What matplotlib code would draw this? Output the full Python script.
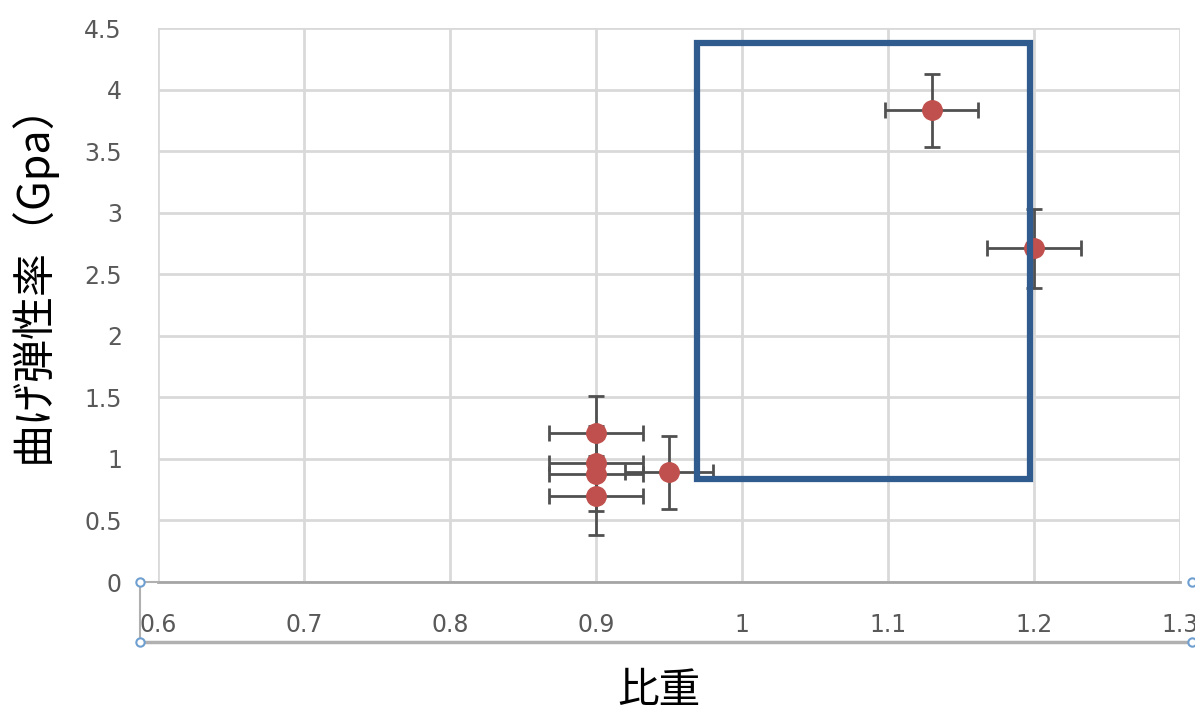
import matplotlib.pyplot as plt
from matplotlib.patches import Rectangle
from matplotlib.lines import Line2D

# data
x_vals = [1.13, 1.20, 0.90, 0.90, 0.90, 0.90, 0.95]
y_vals = [3.83, 2.71, 1.21, 0.97, 0.88, 0.70, 0.89]
x_err = [0.032, 0.032, 0.032, 0.032, 0.032, 0.032, 0.03]
y_err = [0.30, 0.32, 0.30, 0.30, 0.30, 0.32, 0.30]
x_ticks = [0.6, 0.7, 0.8, 0.9, 1.0, 1.1, 1.2, 1.3]
x_tick_labels = ['0.6', '0.7', '0.8', '0.9', '1', '1.1', '1.2', '1.3']
y_ticks = [0, 0.5, 1, 1.5, 2, 2.5, 3, 3.5, 4, 4.5]
y_tick_labels = ['0', '0.5', '1', '1.5', '2', '2.5', '3', '3.5', '4', '4.5']
# highlighted region (x0, y0, x1, y1)
box = [0.969, 0.84, 1.197, 4.38]

plt.rcParams['font.family'] = ['Noto Sans CJK JP', 'DejaVu Sans']

fig = plt.figure(figsize=(11.95, 7.22), dpi=100)
ax = fig.add_axes([0.1322, 0.1939, 0.8552, 0.7673])
ax.set_xlim(0.6, 1.3)
ax.set_ylim(0, 4.5)

ax.grid(True, color='#d9d9d9', linewidth=2)
ax.set_axisbelow(True)
for s in ['top', 'right', 'left']:
    ax.spines[s].set_visible(False)
ax.spines['bottom'].set_color('#a6a6a6')
ax.spines['bottom'].set_linewidth(2)

ax.errorbar(x_vals, y_vals, xerr=x_err, yerr=y_err, fmt='o',
            color='#c0504d', markersize=14, ecolor='#505050',
            elinewidth=2, capsize=6, capthick=2, zorder=3)

ax.add_patch(Rectangle((box[0], box[1]), box[2] - box[0], box[3] - box[1],
                       fill=False, edgecolor='#2f5b8f', linewidth=4.5, zorder=4))

ax.set_xticks(x_ticks)
ax.set_xticklabels(x_tick_labels, family=['DejaVu Sans'])
ax.set_yticks(y_ticks)
ax.set_yticklabels(y_tick_labels, family=['DejaVu Sans'])
ax.tick_params(axis='x', length=0, pad=22, labelsize=17, labelcolor='#595959')
ax.tick_params(axis='y', length=0, pad=26, labelsize=17, labelcolor='#595959')

ax.set_ylabel('曲げ弾性率（Gpa）', fontsize=31, color='black')
ax.yaxis.set_label_coords(-0.1, 0.56)
ax.set_xlabel('比重', fontsize=30, color='black')
ax.xaxis.set_label_coords(0.49, -0.16)

# selection frame around the axis labels
tr = fig.transFigure
fx0, fx1 = 140 / 1195, 1192 / 1195
fy0, fy1 = 1 - 582 / 722, 1 - 642 / 722
fig.add_artist(Line2D([fx0, fx1], [fy1, fy1], transform=tr, color='#b0b0b0', lw=2.5))
fig.add_artist(Line2D([fx0, fx0], [fy0, fy1], transform=tr, color='#b0b0b0', lw=1.5))
fig.add_artist(Line2D([fx0, 158 / 1195], [fy0, fy0], transform=tr, color='#b0b0b0', lw=1.5))
for px, py in [(fx0, fy0), (fx0, fy1), (fx1, fy0), (fx1, fy1)]:
    fig.add_artist(Line2D([px], [py], transform=tr, marker='o', markersize=6,
                          markerfacecolor='white', markeredgecolor='#6f9fd0', mew=1.5))

fig.savefig('out.png', dpi=100)
